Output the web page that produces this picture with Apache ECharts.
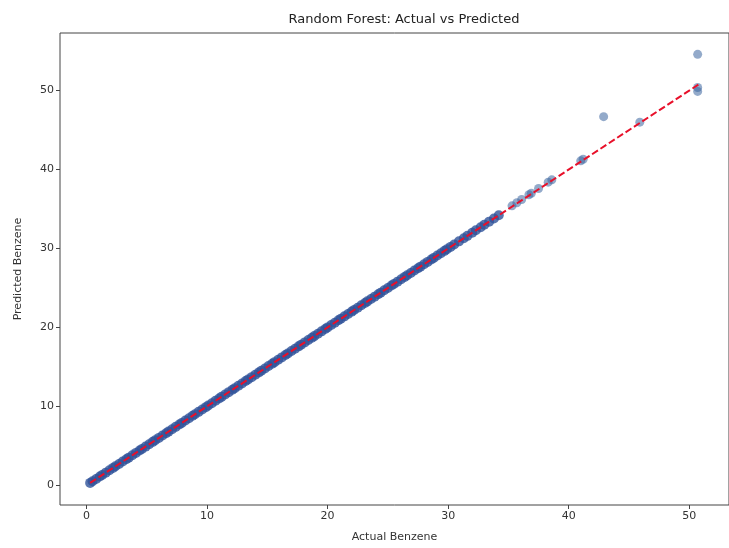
<!DOCTYPE html>
<html lang="en">
<head>
    <meta charset="UTF-8">
    <title>Random Forest: Actual vs Predicted</title>
    <script src="https://cdn.jsdelivr.net/npm/echarts@6/dist/echarts.min.js"></script>
    <style>
        body { padding: 0; margin: 0; border: none; overflow: hidden; background: #fff; }
        #echart { width: 729px; height: 548px; }
    </style>
</head>
<body>
<div id="echart"></div>
<script>
// values: the dense run along the diagonal
const denseActual = [
    0.3, 0.5, 0.8, 1.1, 1.3, 1.6, 1.9, 2.2, 2.4, 2.7, 3.0, 3.3, 3.5, 3.8, 4.1, 4.4, 4.6, 4.9,
    5.2, 5.5, 5.7, 6.0, 6.3, 6.6, 6.8, 7.1, 7.4, 7.7, 7.9, 8.2, 8.5, 8.8, 9.0, 9.3, 9.6, 9.9,
    10.1, 10.4, 10.7, 11.0, 11.2, 11.5, 11.8, 12.1, 12.3, 12.6, 12.9, 13.2, 13.4, 13.7, 14.0,
    14.3, 14.5, 14.8, 15.1, 15.4, 15.6, 15.9, 16.2, 16.5, 16.7, 17.0, 17.3, 17.6, 17.8, 18.1,
    18.4, 18.7, 18.9, 19.2, 19.5, 19.8, 20.0, 20.3, 20.6, 20.9, 21.1, 21.4, 21.7, 22.0, 22.2,
    22.5, 22.8, 23.1, 23.3, 23.6, 23.9, 24.2, 24.4, 24.7, 25.0, 25.3, 25.5, 25.8, 26.1, 26.4,
    26.6, 26.9, 27.2, 27.5, 27.7, 28.0, 28.3, 28.6, 28.8, 29.1, 29.4, 29.7, 29.9, 30.2, 30.5,
    30.9, 31.3, 31.6, 32.0, 32.3, 32.7, 33.0, 33.4, 33.8, 34.2
];
const densePredicted = [
    0.3, 0.5, 0.8, 1.1, 1.3, 1.6, 1.9, 2.2, 2.4, 2.7, 3.0, 3.3, 3.5, 3.8, 4.1, 4.4, 4.6, 4.9,
    5.2, 5.5, 5.7, 6.0, 6.3, 6.6, 6.8, 7.1, 7.4, 7.7, 7.9, 8.2, 8.5, 8.8, 9.0, 9.3, 9.6, 9.9,
    10.1, 10.4, 10.7, 11.0, 11.2, 11.5, 11.8, 12.1, 12.3, 12.6, 12.9, 13.2, 13.4, 13.7, 14.0,
    14.3, 14.5, 14.8, 15.1, 15.4, 15.6, 15.9, 16.2, 16.5, 16.7, 17.0, 17.3, 17.6, 17.8, 18.1,
    18.4, 18.7, 18.9, 19.2, 19.5, 19.8, 20.0, 20.3, 20.6, 20.9, 21.1, 21.4, 21.7, 22.0, 22.2,
    22.5, 22.8, 23.1, 23.3, 23.6, 23.9, 24.2, 24.4, 24.7, 25.0, 25.3, 25.5, 25.8, 26.1, 26.4,
    26.6, 26.9, 27.2, 27.5, 27.7, 28.0, 28.3, 28.6, 28.8, 29.1, 29.4, 29.7, 29.9, 30.2, 30.5,
    30.9, 31.3, 31.6, 32.0, 32.3, 32.7, 33.0, 33.4, 33.8, 34.2
];
// the scattered points above 35
const sparseActual = [35.3, 35.7, 36.1, 36.7, 36.9, 37.5, 38.3, 38.6, 41.0, 41.2, 42.9, 45.9, 50.7, 50.7, 50.7];
const sparsePredicted = [35.4, 35.8, 36.2, 36.8, 37.0, 37.6, 38.4, 38.7, 41.1, 41.3, 46.7, 46.0, 54.6, 50.4, 49.9];
const idealLine = [0.3, 50.8];
const xTicks = [0, 10, 20, 30, 40, 50];
const yTicks = [0, 10, 20, 30, 40, 50];

const font = 'DejaVu Sans';
let densePoints = denseActual.map((a, i) => [a, densePredicted[i]]);
let sparsePoints = sparseActual.map((a, i) => [a, sparsePredicted[i]]);

let ec = echarts.init(document.getElementById('echart'));
ec.setOption({
    animation: false,
    backgroundColor: '#fff',
    textStyle: { fontFamily: font },
    title: {
        text: 'Random Forest: Actual vs Predicted',
        left: 399,
        top: 8,
        textAlign: 'center',
        textStyle: { fontFamily: font, fontSize: 13, fontWeight: 'normal', color: '#222' }
    },
    grid: {
        left: 60,
        top: 33,
        bottom: 41,
        right: -12,
        show: true,
        borderColor: '#444',
        borderWidth: 1
    },
    xAxis: {
        type: 'value',
        min: -2.2,
        max: 53.3,
        name: 'Actual Benzene',
        nameLocation: 'middle',
        nameGap: 27,
        nameTextStyle: { fontFamily: font, fontSize: 11, color: '#333' },
        splitLine: { show: false },
        axisLine: { show: false, onZero: false },
        axisTick: { show: true, customValues: xTicks, length: 4, lineStyle: { color: '#444' } },
        axisLabel: { customValues: xTicks, fontFamily: font, fontSize: 11, color: '#333', margin: 6 }
    },
    yAxis: {
        type: 'value',
        min: -2.5,
        max: 57.3,
        name: 'Predicted Benzene',
        nameLocation: 'middle',
        nameGap: 36,
        nameTextStyle: { fontFamily: font, fontSize: 11, color: '#333' },
        splitLine: { show: false },
        axisLine: { show: false, onZero: false },
        axisTick: { show: true, customValues: yTicks, length: 4, lineStyle: { color: '#444' } },
        axisLabel: { customValues: yTicks, fontFamily: font, fontSize: 11, color: '#333', margin: 6 }
    },
    series: [
        {
            type: 'scatter',
            data: densePoints,
            symbolSize: 10,
            itemStyle: { color: '#30529a', opacity: 0.8 },
            z: 2
        },
        {
            type: 'scatter',
            data: sparsePoints,
            symbolSize: 9,
            itemStyle: { color: '#3a659f', opacity: 0.55 },
            z: 2
        },
        {
            type: 'line',
            data: idealLine.map(v => [v, v]),
            symbol: 'none',
            lineStyle: { color: '#e8102a', width: 2, type: [7, 3] },
            z: 3
        }
    ]
});
</script>
</body>
</html>
